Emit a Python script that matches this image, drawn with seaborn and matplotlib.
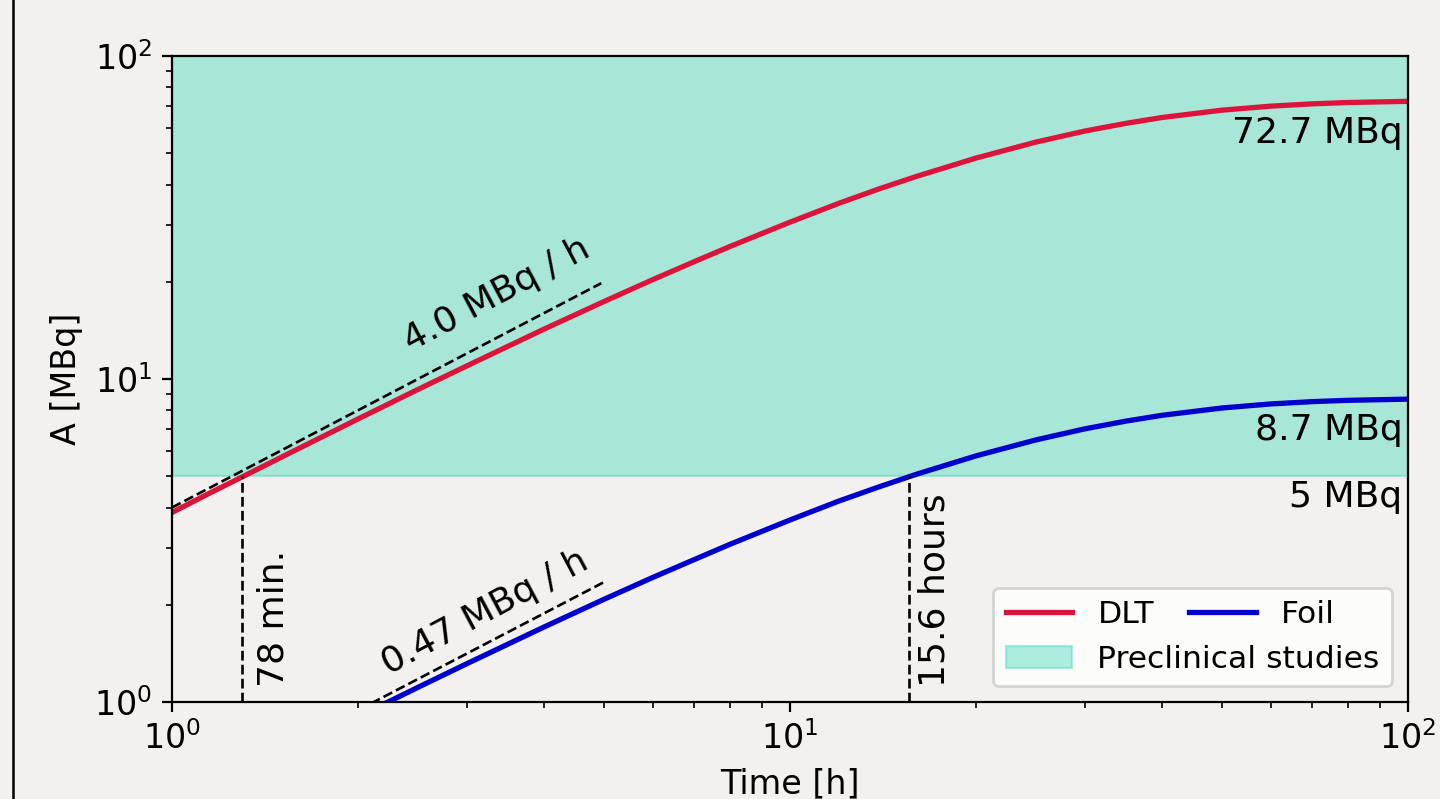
import numpy as np
import pandas as pd
import seaborn as sns
import matplotlib.pyplot as plt
from matplotlib.lines import Line2D

# activity build-up (MBq vs hours)
time_h = [1, 1.15, 1.3, 1.6, 2, 2.5, 3, 4, 5, 6, 7, 8, 10, 12, 14, 16, 20, 25, 30, 35,
          40, 50, 60, 70, 80, 100]
dlt_mbq = [3.86, 4.43, 4.98, 6.08, 7.52, 9.28, 10.98, 14.27, 17.37, 20.31, 23.08, 25.73,
           30.59, 35.0, 38.9, 42.35, 48.31, 54.13, 58.57, 61.9, 64.51, 67.96, 69.95, 71.1,
           71.78, 72.39]
foil_mbq = [0.462, 0.53, 0.596, 0.728, 0.900, 1.110, 1.314, 1.707, 2.079, 2.431, 2.76, 3.079,
            3.660, 4.19, 4.65, 5.068, 5.781, 6.478, 7.009, 7.41, 7.720, 8.133, 8.371, 8.51,
            8.590, 8.663]

# initial slopes (dashed tangents)
dlt_tan_t = [1.0, 4.95]
dlt_tan_a = [4.0, 19.8]
foil_tan_t = [2.1, 5.0]
foil_tan_a = [0.99, 2.35]

threshold = 5
marks_t = [1.3, 15.6]   # 78 min., 15.6 hours

bg = '#f2f1ef'
fill_color = '#3ad6b4'
fs = 13

df = pd.DataFrame({'t': time_h, 'DLT': dlt_mbq, 'Foil': foil_mbq})

fig = plt.figure(figsize=(7.2, 3.995), dpi=200, facecolor=bg)
ax = fig.add_axes([0.11944, 0.12140, 0.85833, 0.80851])
ax.set_facecolor(bg)
fig.add_artist(Line2D([12.5 / 1440] * 2, [0, 1], color='black', lw=0.9))

span = ax.axhspan(threshold, 100, color=fill_color, alpha=0.4, lw=0.8,
                  label='Preclinical studies')

sns.lineplot(data=df, x='t', y='DLT', color='crimson', lw=1.9, ax=ax, label='DLT')
sns.lineplot(data=df, x='t', y='Foil', color='mediumblue', lw=1.9, ax=ax, label='Foil')

ax.plot(dlt_tan_t, dlt_tan_a, 'k--', lw=0.95)
ax.plot(foil_tan_t, foil_tan_a, 'k--', lw=0.95)
for t in marks_t:
    ax.plot([t, t], [1, threshold], 'k--', lw=0.95)

ax.set_xscale('log')
ax.set_yscale('log')
ax.set_xlim(1, 100)
ax.set_ylim(1, 100)
ax.set_xlabel('Time [h]', fontsize=12)
ax.set_ylabel('A [MBq]', fontsize=12)
ax.tick_params(labelsize=12)

ax.text(98, 57.8, '72.7 MBq', ha='right', va='center', fontsize=fs)
ax.text(98, 6.95, '8.7 MBq', ha='right', va='center', fontsize=fs)
ax.text(98, 4.31, '5 MBq', ha='right', va='center', fontsize=fs)
ax.text(3.35, 18.2, '4.0 MBq / h', rotation=28, ha='center', va='center', fontsize=fs)
ax.text(3.21, 1.90, '0.47 MBq / h', rotation=28, ha='center', va='center', fontsize=fs)
ax.text(1.457, 1.11, '78 min.', rotation=90, ha='center', va='bottom', fontsize=fs)
ax.text(17.16, 1.11, '15.6 hours', rotation=90, ha='center', va='bottom', fontsize=fs)

h, l = ax.get_legend_handles_labels()
hd = dict(zip(l, h))
leg1 = ax.legend([hd['DLT'], hd['Preclinical studies']], ['DLT', 'Preclinical studies'],
                 loc='lower right', fontsize=11.3, handlelength=2.13)
ax.add_artist(leg1)
ax.legend([hd['Foil']], ['Foil'], loc='center left', bbox_to_anchor=(0.810, 0.135),
          frameon=False, borderpad=0, fontsize=11.3, handlelength=2.13)

fig.savefig('out.png', dpi=200, facecolor=bg)
